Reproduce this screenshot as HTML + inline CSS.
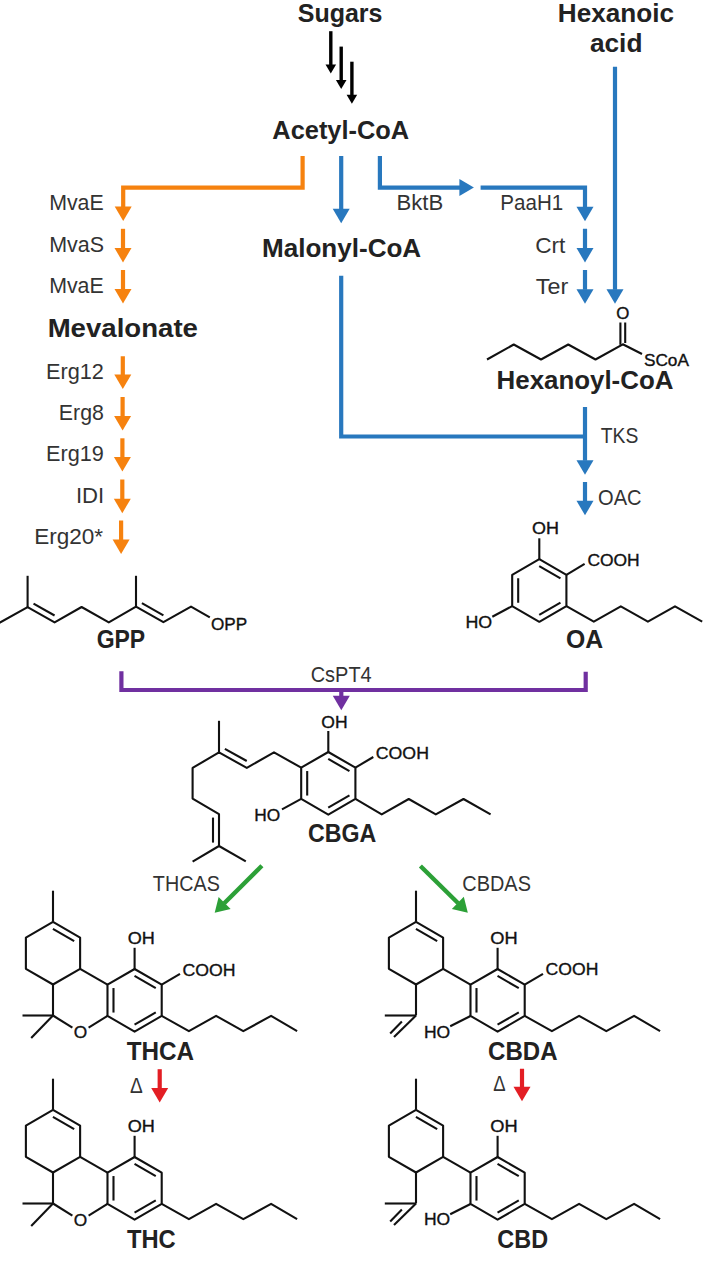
<!DOCTYPE html>
<html><head><meta charset="utf-8"><style>
html,body{margin:0;padding:0;background:#fff;}
body{width:720px;height:1261px;overflow:hidden;}
svg{display:block;}
text{font-family:"Liberation Sans",sans-serif;}
</style></head><body>
<svg width="720" height="1261" viewBox="0 0 720 1261">
<rect width="720" height="1261" fill="#ffffff"/>
<text x="297.78" y="21.60" font-size="25.0" font-weight="bold" fill="#222222" textLength="84.75" lengthAdjust="spacingAndGlyphs">Sugars</text>
<text x="557.85" y="21.60" font-size="25.0" font-weight="bold" fill="#222222" textLength="116.21" lengthAdjust="spacingAndGlyphs">Hexanoic</text>
<text x="589.93" y="51.60" font-size="25.0" font-weight="bold" fill="#222222" textLength="52.50" lengthAdjust="spacingAndGlyphs">acid</text>
<text x="272.37" y="139.20" font-size="25.0" font-weight="bold" fill="#222222" textLength="136.80" lengthAdjust="spacingAndGlyphs">Acetyl-CoA</text>
<text x="262.01" y="256.75" font-size="25.0" font-weight="bold" fill="#222222" textLength="159.18" lengthAdjust="spacingAndGlyphs">Malonyl-CoA</text>
<text x="47.65" y="337.00" font-size="25.0" font-weight="bold" fill="#222222" textLength="150.29" lengthAdjust="spacingAndGlyphs">Mevalonate</text>
<text x="496.57" y="389.30" font-size="25.0" font-weight="bold" fill="#222222" textLength="176.81" lengthAdjust="spacingAndGlyphs">Hexanoyl-CoA</text>
<text x="96.66" y="647.60" font-size="25.0" font-weight="bold" fill="#222222" textLength="48.53" lengthAdjust="spacingAndGlyphs">GPP</text>
<text x="565.98" y="648.00" font-size="25.0" font-weight="bold" fill="#222222" textLength="37.17" lengthAdjust="spacingAndGlyphs">OA</text>
<text x="307.95" y="841.80" font-size="25.0" font-weight="bold" fill="#222222" textLength="68.26" lengthAdjust="spacingAndGlyphs">CBGA</text>
<text x="126.63" y="1060.30" font-size="25.0" font-weight="bold" fill="#222222" textLength="67.31" lengthAdjust="spacingAndGlyphs">THCA</text>
<text x="488.11" y="1060.40" font-size="25.0" font-weight="bold" fill="#222222" textLength="69.42" lengthAdjust="spacingAndGlyphs">CBDA</text>
<text x="126.93" y="1248.00" font-size="25.0" font-weight="bold" fill="#222222" textLength="48.71" lengthAdjust="spacingAndGlyphs">THC</text>
<text x="497.34" y="1248.00" font-size="25.0" font-weight="bold" fill="#222222" textLength="50.74" lengthAdjust="spacingAndGlyphs">CBD</text>
<text x="49.15" y="209.80" font-size="22.0" font-weight="normal" fill="#333333" textLength="54.57" lengthAdjust="spacingAndGlyphs">MvaE</text>
<text x="49.14" y="252.00" font-size="22.0" font-weight="normal" fill="#333333" textLength="54.84" lengthAdjust="spacingAndGlyphs">MvaS</text>
<text x="49.15" y="292.90" font-size="22.0" font-weight="normal" fill="#333333" textLength="54.57" lengthAdjust="spacingAndGlyphs">MvaE</text>
<text x="46.02" y="379.30" font-size="22.0" font-weight="normal" fill="#333333" textLength="57.87" lengthAdjust="spacingAndGlyphs">Erg12</text>
<text x="58.85" y="420.00" font-size="22.0" font-weight="normal" fill="#333333" textLength="45.08" lengthAdjust="spacingAndGlyphs">Erg8</text>
<text x="46.02" y="460.90" font-size="22.0" font-weight="normal" fill="#333333" textLength="57.80" lengthAdjust="spacingAndGlyphs">Erg19</text>
<text x="75.96" y="502.80" font-size="22.0" font-weight="normal" fill="#333333" textLength="28.29" lengthAdjust="spacingAndGlyphs">IDI</text>
<text x="34.25" y="543.90" font-size="22.0" font-weight="normal" fill="#333333" textLength="68.90" lengthAdjust="spacingAndGlyphs">Erg20*</text>
<text x="396.49" y="209.50" font-size="22.0" font-weight="normal" fill="#333333" textLength="46.68" lengthAdjust="spacingAndGlyphs">BktB</text>
<text x="500.31" y="210.00" font-size="22.0" font-weight="normal" fill="#333333" textLength="62.89" lengthAdjust="spacingAndGlyphs">PaaH1</text>
<text x="535.15" y="252.60" font-size="22.0" font-weight="normal" fill="#333333" textLength="30.22" lengthAdjust="spacingAndGlyphs">Crt</text>
<text x="535.82" y="293.90" font-size="22.0" font-weight="normal" fill="#333333" textLength="32.34" lengthAdjust="spacingAndGlyphs">Ter</text>
<text x="600.82" y="442.70" font-size="22.0" font-weight="normal" fill="#333333" textLength="37.57" lengthAdjust="spacingAndGlyphs">TKS</text>
<text x="598.05" y="505.40" font-size="22.0" font-weight="normal" fill="#333333" textLength="43.52" lengthAdjust="spacingAndGlyphs">OAC</text>
<text x="310.69" y="681.90" font-size="22.0" font-weight="normal" fill="#333333" textLength="61.00" lengthAdjust="spacingAndGlyphs">CsPT4</text>
<text x="152.86" y="891.10" font-size="22.0" font-weight="normal" fill="#333333" textLength="66.95" lengthAdjust="spacingAndGlyphs">THCAS</text>
<text x="462.29" y="891.10" font-size="22.0" font-weight="normal" fill="#333333" textLength="68.63" lengthAdjust="spacingAndGlyphs">CBDAS</text>
<text x="130.03" y="1092.80" font-size="22.0" font-weight="normal" fill="#333333" textLength="12.75" lengthAdjust="spacingAndGlyphs">Δ</text>
<text x="493.20" y="1090.50" font-size="22.0" font-weight="normal" fill="#333333" textLength="12.36" lengthAdjust="spacingAndGlyphs">Δ</text>
<path d="M329.10,31.20 H332.50 V65.00 H329.10 Z" fill="#000000"/>
<path d="M325.50,64.50 L336.10,64.50 L330.80,73.50 Z" fill="#000000"/>
<path d="M339.50,46.60 H342.90 V80.50 H339.50 Z" fill="#000000"/>
<path d="M335.90,80.00 L346.50,80.00 L341.20,89.00 Z" fill="#000000"/>
<path d="M350.20,61.70 H353.60 V95.30 H350.20 Z" fill="#000000"/>
<path d="M346.60,94.80 L357.20,94.80 L351.90,103.80 Z" fill="#000000"/>
<path d="M302.60,156.00 L302.60,187.60 L123.20,187.60 L123.20,208.00" fill="none" stroke="#F6820F" stroke-width="4.2" stroke-linejoin="miter" stroke-linecap="butt"/>
<path d="M114.70,206.50 L131.70,206.50 L123.20,221.00 Z" fill="#F6820F"/>
<path d="M120.90,228.80 H125.10 V248.50 H120.90 Z" fill="#F6820F"/>
<path d="M114.50,248.00 L131.50,248.00 L123.00,262.50 Z" fill="#F6820F"/>
<path d="M120.90,270.00 H125.10 V289.50 H120.90 Z" fill="#F6820F"/>
<path d="M114.50,289.00 L131.50,289.00 L123.00,303.50 Z" fill="#F6820F"/>
<path d="M120.70,356.25 H124.90 V375.00 H120.70 Z" fill="#F6820F"/>
<path d="M114.30,374.50 L131.30,374.50 L122.80,389.00 Z" fill="#F6820F"/>
<path d="M120.50,397.00 H124.70 V416.50 H120.50 Z" fill="#F6820F"/>
<path d="M114.10,416.00 L131.10,416.00 L122.60,430.50 Z" fill="#F6820F"/>
<path d="M120.30,438.30 H124.50 V457.60 H120.30 Z" fill="#F6820F"/>
<path d="M113.90,457.10 L130.90,457.10 L122.40,471.60 Z" fill="#F6820F"/>
<path d="M120.20,479.50 H124.40 V499.20 H120.20 Z" fill="#F6820F"/>
<path d="M113.80,498.70 L130.80,498.70 L122.30,513.20 Z" fill="#F6820F"/>
<path d="M119.00,520.50 H123.20 V540.00 H119.00 Z" fill="#F6820F"/>
<path d="M112.60,539.50 L129.60,539.50 L121.10,554.00 Z" fill="#F6820F"/>
<path d="M339.10,156.00 H343.30 V209.30 H339.10 Z" fill="#2878BE"/>
<path d="M332.70,208.80 L349.70,208.80 L341.20,223.30 Z" fill="#2878BE"/>
<path d="M379.90,156.00 L379.90,187.60 L460.00,187.60" fill="none" stroke="#2878BE" stroke-width="4.2" stroke-linejoin="miter" stroke-linecap="butt"/>
<path d="M459.40,196.10 L459.40,179.10 L473.90,187.60 Z" fill="#2878BE"/>
<path d="M480.60,187.60 L585.00,187.60 L585.00,208.00" fill="none" stroke="#2878BE" stroke-width="4.2" stroke-linejoin="miter" stroke-linecap="butt"/>
<path d="M576.50,206.75 L593.50,206.75 L585.00,221.25 Z" fill="#2878BE"/>
<path d="M582.90,228.75 H587.10 V248.50 H582.90 Z" fill="#2878BE"/>
<path d="M576.50,248.00 L593.50,248.00 L585.00,262.50 Z" fill="#2878BE"/>
<path d="M582.90,270.00 H587.10 V289.75 H582.90 Z" fill="#2878BE"/>
<path d="M576.50,289.25 L593.50,289.25 L585.00,303.75 Z" fill="#2878BE"/>
<path d="M612.90,66.70 H617.10 V289.75 H612.90 Z" fill="#2878BE"/>
<path d="M606.50,289.25 L623.50,289.25 L615.00,303.75 Z" fill="#2878BE"/>
<path d="M341.20,275.70 L341.20,436.50 L585.00,436.50" fill="none" stroke="#2878BE" stroke-width="4.2" stroke-linejoin="miter" stroke-linecap="butt"/>
<path d="M582.90,407.00 H587.10 V460.70 H582.90 Z" fill="#2878BE"/>
<path d="M576.50,460.20 L593.50,460.20 L585.00,474.70 Z" fill="#2878BE"/>
<path d="M582.90,482.00 H587.10 V501.30 H582.90 Z" fill="#2878BE"/>
<path d="M576.50,500.80 L593.50,500.80 L585.00,515.30 Z" fill="#2878BE"/>
<path d="M121.40,671.25 L121.40,690.00 L585.70,690.00 L585.70,671.70" fill="none" stroke="#7030A0" stroke-width="4.2" stroke-linejoin="miter" stroke-linecap="butt"/>
<path d="M339.20,690.00 H343.40 V696.30 H339.20 Z" fill="#7030A0"/>
<path d="M332.80,695.80 L349.80,695.80 L341.30,710.30 Z" fill="#7030A0"/>
<line x1="261.90" y1="865.70" x2="224.26" y2="903.26" stroke="#2CA037" stroke-width="4.4"/>
<path d="M218.61,896.89 L230.61,908.93 L214.70,912.80 Z" fill="#2CA037"/>
<line x1="420.40" y1="866.00" x2="458.18" y2="903.23" stroke="#2CA037" stroke-width="4.4"/>
<path d="M451.86,908.93 L463.79,896.82 L467.80,912.70 Z" fill="#2CA037"/>
<path d="M157.60,1069.20 H161.80 V1088.50 H157.60 Z" fill="#E31E24"/>
<path d="M151.20,1088.00 L168.20,1088.00 L159.70,1102.50 Z" fill="#E31E24"/>
<path d="M519.90,1068.75 H524.10 V1087.25 H519.90 Z" fill="#E31E24"/>
<path d="M513.50,1086.75 L530.50,1086.75 L522.00,1101.25 Z" fill="#E31E24"/>
<polyline points="487.00,359.50 513.75,344.50 541.00,359.50 568.25,344.50 595.50,359.50 622.80,344.30 642.00,354.00" fill="none" stroke="#111111" stroke-width="2.1" stroke-linejoin="round"/>
<line x1="620.40" y1="344.80" x2="620.40" y2="322.50" stroke="#111111" stroke-width="2.1"/>
<line x1="625.20" y1="343.00" x2="625.20" y2="322.50" stroke="#111111" stroke-width="2.1"/>
<text x="616.20" y="319.00" font-size="16.0" font-weight="normal" fill="#111111" stroke="#111111" stroke-width="0.35" textLength="13.10" lengthAdjust="spacingAndGlyphs">O</text>
<text x="643.92" y="365.70" font-size="16.6" font-weight="normal" fill="#111111" stroke="#111111" stroke-width="0.35" textLength="45.02" lengthAdjust="spacingAndGlyphs">SCoA</text>
<polyline points="-0.50,622.80 27.60,607.20 54.60,622.40 81.60,607.00 108.80,622.40 136.00,606.60 163.40,622.20 191.00,606.60 209.80,617.40" fill="none" stroke="#111111" stroke-width="2.1" stroke-linejoin="round"/>
<line x1="27.60" y1="607.20" x2="27.60" y2="575.80" stroke="#111111" stroke-width="2.1"/>
<line x1="136.00" y1="606.60" x2="136.00" y2="575.80" stroke="#111111" stroke-width="2.1"/>
<line x1="33.51" y1="603.64" x2="54.58" y2="615.50" stroke="#111111" stroke-width="2.1"/>
<line x1="141.92" y1="603.07" x2="163.41" y2="615.30" stroke="#111111" stroke-width="2.1"/>
<text x="210.94" y="629.90" font-size="17.0" font-weight="normal" fill="#111111" stroke="#111111" stroke-width="0.35" textLength="36.22" lengthAdjust="spacingAndGlyphs">OPP</text>
<polyline points="539.30,559.20 566.41,574.85 566.41,606.15 539.30,621.80 512.19,606.15 512.19,574.85 539.30,559.20" fill="none" stroke="#111111" stroke-width="2.1" stroke-linejoin="round"/>
<line x1="518.19" y1="578.25" x2="518.19" y2="602.75" stroke="#111111" stroke-width="2.1"/>
<line x1="539.24" y1="566.10" x2="560.46" y2="578.35" stroke="#111111" stroke-width="2.1"/>
<line x1="560.46" y1="602.65" x2="539.24" y2="614.90" stroke="#111111" stroke-width="2.1"/>
<line x1="539.30" y1="559.20" x2="539.30" y2="538.30" stroke="#111111" stroke-width="2.1"/>
<line x1="512.19" y1="606.15" x2="492.30" y2="616.70" stroke="#111111" stroke-width="2.1"/>
<line x1="566.41" y1="574.85" x2="584.60" y2="563.80" stroke="#111111" stroke-width="2.1"/>
<polyline points="566.41,606.15 593.80,621.70 620.80,606.40 647.90,621.70 675.00,606.40 702.20,621.70" fill="none" stroke="#111111" stroke-width="2.1" stroke-linejoin="round"/>
<text x="532.05" y="534.40" font-size="17.0" font-weight="normal" fill="#111111" stroke="#111111" stroke-width="0.35" textLength="26.91" lengthAdjust="spacingAndGlyphs">OH</text>
<text x="465.44" y="627.90" font-size="17.0" font-weight="normal" fill="#111111" stroke="#111111" stroke-width="0.35" textLength="26.71" lengthAdjust="spacingAndGlyphs">HO</text>
<text x="587.41" y="565.70" font-size="17.0" font-weight="normal" fill="#111111" stroke="#111111" stroke-width="0.35" textLength="52.31" lengthAdjust="spacingAndGlyphs">COOH</text>
<polyline points="328.30,752.00 355.41,767.65 355.41,798.95 328.30,814.60 301.19,798.95 301.19,767.65 328.30,752.00" fill="none" stroke="#111111" stroke-width="2.1" stroke-linejoin="round"/>
<line x1="307.19" y1="771.05" x2="307.19" y2="795.55" stroke="#111111" stroke-width="2.1"/>
<line x1="328.24" y1="758.90" x2="349.46" y2="771.15" stroke="#111111" stroke-width="2.1"/>
<line x1="349.46" y1="795.45" x2="328.24" y2="807.70" stroke="#111111" stroke-width="2.1"/>
<line x1="328.30" y1="752.00" x2="328.30" y2="731.00" stroke="#111111" stroke-width="2.1"/>
<line x1="301.19" y1="798.95" x2="282.00" y2="809.30" stroke="#111111" stroke-width="2.1"/>
<line x1="355.41" y1="767.65" x2="373.30" y2="757.00" stroke="#111111" stroke-width="2.1"/>
<polyline points="355.41,798.95 381.70,814.40 408.75,799.00 435.80,814.40 463.50,799.00 490.60,814.40" fill="none" stroke="#111111" stroke-width="2.1" stroke-linejoin="round"/>
<polyline points="301.19,767.65 274.00,752.40 246.80,767.90 219.00,752.40 192.60,767.90 192.60,798.60 219.00,814.20 219.00,846.00 192.60,861.60" fill="none" stroke="#111111" stroke-width="2.1" stroke-linejoin="round"/>
<line x1="219.00" y1="846.00" x2="245.80" y2="861.40" stroke="#111111" stroke-width="2.1"/>
<line x1="219.00" y1="752.40" x2="219.00" y2="720.80" stroke="#111111" stroke-width="2.1"/>
<line x1="246.75" y1="761.00" x2="224.89" y2="748.82" stroke="#111111" stroke-width="2.1"/>
<line x1="213.00" y1="817.60" x2="213.00" y2="842.60" stroke="#111111" stroke-width="2.1"/>
<text x="321.37" y="727.50" font-size="17.0" font-weight="normal" fill="#111111" stroke="#111111" stroke-width="0.35" textLength="26.26" lengthAdjust="spacingAndGlyphs">OH</text>
<text x="375.80" y="758.50" font-size="17.0" font-weight="normal" fill="#111111" stroke="#111111" stroke-width="0.35" textLength="53.14" lengthAdjust="spacingAndGlyphs">COOH</text>
<text x="254.38" y="820.80" font-size="17.0" font-weight="normal" fill="#111111" stroke="#111111" stroke-width="0.35" textLength="25.95" lengthAdjust="spacingAndGlyphs">HO</text>
<polyline points="53.00,921.90 80.11,937.55 80.11,968.85 53.00,984.50 25.89,968.85 25.89,937.55 53.00,921.90" fill="none" stroke="#111111" stroke-width="2.1" stroke-linejoin="round"/>
<line x1="52.94" y1="928.80" x2="74.16" y2="941.05" stroke="#111111" stroke-width="2.1"/>
<line x1="53.00" y1="921.90" x2="53.00" y2="890.70" stroke="#111111" stroke-width="2.1"/>
<polyline points="134.60,969.00 161.71,984.65 161.71,1015.95 134.60,1031.60 107.49,1015.95 107.49,984.65 134.60,969.00" fill="none" stroke="#111111" stroke-width="2.1" stroke-linejoin="round"/>
<line x1="113.49" y1="988.05" x2="113.49" y2="1012.55" stroke="#111111" stroke-width="2.1"/>
<line x1="134.54" y1="975.90" x2="155.76" y2="988.15" stroke="#111111" stroke-width="2.1"/>
<line x1="155.76" y1="1012.45" x2="134.54" y2="1024.70" stroke="#111111" stroke-width="2.1"/>
<line x1="80.11" y1="968.85" x2="107.49" y2="984.65" stroke="#111111" stroke-width="2.1"/>
<line x1="134.60" y1="969.00" x2="134.60" y2="947.80" stroke="#111111" stroke-width="2.1"/>
<line x1="161.71" y1="984.65" x2="180.00" y2="973.80" stroke="#111111" stroke-width="2.1"/>
<polyline points="161.71,1015.95 188.90,1031.20 216.10,1015.90 243.30,1031.20 271.10,1015.90 297.10,1031.20" fill="none" stroke="#111111" stroke-width="2.1" stroke-linejoin="round"/>
<line x1="53.00" y1="984.50" x2="53.00" y2="1015.50" stroke="#111111" stroke-width="2.1"/>
<line x1="53.00" y1="1015.50" x2="22.50" y2="1015.50" stroke="#111111" stroke-width="2.1"/>
<line x1="53.00" y1="1015.50" x2="31.20" y2="1038.00" stroke="#111111" stroke-width="2.1"/>
<line x1="53.00" y1="1015.50" x2="72.40" y2="1027.70" stroke="#111111" stroke-width="2.1"/>
<line x1="88.60" y1="1027.70" x2="107.49" y2="1015.95" stroke="#111111" stroke-width="2.1"/>
<text x="73.68" y="1037.90" font-size="17.0" font-weight="normal" fill="#111111" stroke="#111111" stroke-width="0.35" textLength="13.45" lengthAdjust="spacingAndGlyphs">O</text>
<text x="127.74" y="943.80" font-size="17.0" font-weight="normal" fill="#111111" stroke="#111111" stroke-width="0.35" textLength="27.13" lengthAdjust="spacingAndGlyphs">OH</text>
<text x="182.40" y="975.80" font-size="17.0" font-weight="normal" fill="#111111" stroke="#111111" stroke-width="0.35" textLength="53.04" lengthAdjust="spacingAndGlyphs">COOH</text>
<polyline points="53.00,1109.90 80.11,1125.55 80.11,1156.85 53.00,1172.50 25.89,1156.85 25.89,1125.55 53.00,1109.90" fill="none" stroke="#111111" stroke-width="2.1" stroke-linejoin="round"/>
<line x1="52.94" y1="1116.80" x2="74.16" y2="1129.05" stroke="#111111" stroke-width="2.1"/>
<line x1="53.00" y1="1109.90" x2="53.00" y2="1078.70" stroke="#111111" stroke-width="2.1"/>
<polyline points="134.60,1157.00 161.71,1172.65 161.71,1203.95 134.60,1219.60 107.49,1203.95 107.49,1172.65 134.60,1157.00" fill="none" stroke="#111111" stroke-width="2.1" stroke-linejoin="round"/>
<line x1="113.49" y1="1176.05" x2="113.49" y2="1200.55" stroke="#111111" stroke-width="2.1"/>
<line x1="134.54" y1="1163.90" x2="155.76" y2="1176.15" stroke="#111111" stroke-width="2.1"/>
<line x1="155.76" y1="1200.45" x2="134.54" y2="1212.70" stroke="#111111" stroke-width="2.1"/>
<line x1="80.11" y1="1156.85" x2="107.49" y2="1172.65" stroke="#111111" stroke-width="2.1"/>
<line x1="134.60" y1="1157.00" x2="134.60" y2="1135.80" stroke="#111111" stroke-width="2.1"/>
<polyline points="161.71,1203.95 188.90,1219.20 216.10,1203.90 243.30,1219.20 271.10,1203.90 297.10,1219.20" fill="none" stroke="#111111" stroke-width="2.1" stroke-linejoin="round"/>
<line x1="53.00" y1="1172.50" x2="53.00" y2="1203.50" stroke="#111111" stroke-width="2.1"/>
<line x1="53.00" y1="1203.50" x2="22.50" y2="1203.50" stroke="#111111" stroke-width="2.1"/>
<line x1="53.00" y1="1203.50" x2="31.20" y2="1226.00" stroke="#111111" stroke-width="2.1"/>
<line x1="53.00" y1="1203.50" x2="72.40" y2="1215.70" stroke="#111111" stroke-width="2.1"/>
<line x1="88.60" y1="1215.70" x2="107.49" y2="1203.95" stroke="#111111" stroke-width="2.1"/>
<text x="73.68" y="1225.90" font-size="17.0" font-weight="normal" fill="#111111" stroke="#111111" stroke-width="0.35" textLength="13.45" lengthAdjust="spacingAndGlyphs">O</text>
<text x="127.74" y="1131.80" font-size="17.0" font-weight="normal" fill="#111111" stroke="#111111" stroke-width="0.35" textLength="27.13" lengthAdjust="spacingAndGlyphs">OH</text>
<polyline points="416.00,921.90 443.11,937.55 443.11,968.85 416.00,984.50 388.89,968.85 388.89,937.55 416.00,921.90" fill="none" stroke="#111111" stroke-width="2.1" stroke-linejoin="round"/>
<line x1="415.94" y1="928.80" x2="437.16" y2="941.05" stroke="#111111" stroke-width="2.1"/>
<line x1="416.00" y1="921.90" x2="416.00" y2="890.70" stroke="#111111" stroke-width="2.1"/>
<polyline points="497.60,969.00 524.71,984.65 524.71,1015.95 497.60,1031.60 470.49,1015.95 470.49,984.65 497.60,969.00" fill="none" stroke="#111111" stroke-width="2.1" stroke-linejoin="round"/>
<line x1="476.49" y1="988.05" x2="476.49" y2="1012.55" stroke="#111111" stroke-width="2.1"/>
<line x1="497.54" y1="975.90" x2="518.76" y2="988.15" stroke="#111111" stroke-width="2.1"/>
<line x1="518.76" y1="1012.45" x2="497.54" y2="1024.70" stroke="#111111" stroke-width="2.1"/>
<line x1="443.11" y1="968.85" x2="470.49" y2="984.65" stroke="#111111" stroke-width="2.1"/>
<line x1="497.60" y1="969.00" x2="497.60" y2="947.80" stroke="#111111" stroke-width="2.1"/>
<line x1="524.71" y1="984.65" x2="543.00" y2="973.80" stroke="#111111" stroke-width="2.1"/>
<polyline points="524.71,1015.95 551.90,1031.20 579.10,1015.90 606.30,1031.20 634.10,1015.90 660.10,1031.20" fill="none" stroke="#111111" stroke-width="2.1" stroke-linejoin="round"/>
<line x1="416.00" y1="984.50" x2="416.00" y2="1015.50" stroke="#111111" stroke-width="2.1"/>
<line x1="416.00" y1="1015.50" x2="384.80" y2="1015.50" stroke="#111111" stroke-width="2.1"/>
<line x1="416.00" y1="1015.50" x2="394.00" y2="1037.10" stroke="#111111" stroke-width="2.1"/>
<line x1="401.90" y1="1021.40" x2="390.20" y2="1033.40" stroke="#111111" stroke-width="2.1"/>
<line x1="470.49" y1="1015.95" x2="450.20" y2="1026.30" stroke="#111111" stroke-width="2.1"/>
<text x="490.39" y="944.00" font-size="17.0" font-weight="normal" fill="#111111" stroke="#111111" stroke-width="0.35" textLength="27.35" lengthAdjust="spacingAndGlyphs">OH</text>
<text x="423.96" y="1037.80" font-size="17.0" font-weight="normal" fill="#111111" stroke="#111111" stroke-width="0.35" textLength="26.28" lengthAdjust="spacingAndGlyphs">HO</text>
<text x="545.61" y="975.40" font-size="17.0" font-weight="normal" fill="#111111" stroke="#111111" stroke-width="0.35" textLength="52.73" lengthAdjust="spacingAndGlyphs">COOH</text>
<polyline points="416.00,1109.90 443.11,1125.55 443.11,1156.85 416.00,1172.50 388.89,1156.85 388.89,1125.55 416.00,1109.90" fill="none" stroke="#111111" stroke-width="2.1" stroke-linejoin="round"/>
<line x1="415.94" y1="1116.80" x2="437.16" y2="1129.05" stroke="#111111" stroke-width="2.1"/>
<line x1="416.00" y1="1109.90" x2="416.00" y2="1078.70" stroke="#111111" stroke-width="2.1"/>
<polyline points="497.60,1157.00 524.71,1172.65 524.71,1203.95 497.60,1219.60 470.49,1203.95 470.49,1172.65 497.60,1157.00" fill="none" stroke="#111111" stroke-width="2.1" stroke-linejoin="round"/>
<line x1="476.49" y1="1176.05" x2="476.49" y2="1200.55" stroke="#111111" stroke-width="2.1"/>
<line x1="497.54" y1="1163.90" x2="518.76" y2="1176.15" stroke="#111111" stroke-width="2.1"/>
<line x1="518.76" y1="1200.45" x2="497.54" y2="1212.70" stroke="#111111" stroke-width="2.1"/>
<line x1="443.11" y1="1156.85" x2="470.49" y2="1172.65" stroke="#111111" stroke-width="2.1"/>
<line x1="497.60" y1="1157.00" x2="497.60" y2="1135.80" stroke="#111111" stroke-width="2.1"/>
<polyline points="524.71,1203.95 551.90,1219.20 579.10,1203.90 606.30,1219.20 634.10,1203.90 660.10,1219.20" fill="none" stroke="#111111" stroke-width="2.1" stroke-linejoin="round"/>
<line x1="416.00" y1="1172.50" x2="416.00" y2="1203.50" stroke="#111111" stroke-width="2.1"/>
<line x1="416.00" y1="1203.50" x2="384.80" y2="1203.50" stroke="#111111" stroke-width="2.1"/>
<line x1="416.00" y1="1203.50" x2="394.00" y2="1225.10" stroke="#111111" stroke-width="2.1"/>
<line x1="401.90" y1="1209.40" x2="390.20" y2="1221.40" stroke="#111111" stroke-width="2.1"/>
<line x1="470.49" y1="1203.95" x2="450.20" y2="1214.30" stroke="#111111" stroke-width="2.1"/>
<text x="490.39" y="1132.00" font-size="17.0" font-weight="normal" fill="#111111" stroke="#111111" stroke-width="0.35" textLength="27.35" lengthAdjust="spacingAndGlyphs">OH</text>
<text x="423.96" y="1224.70" font-size="17.0" font-weight="normal" fill="#111111" stroke="#111111" stroke-width="0.35" textLength="26.28" lengthAdjust="spacingAndGlyphs">HO</text>
</svg>
</body></html>
